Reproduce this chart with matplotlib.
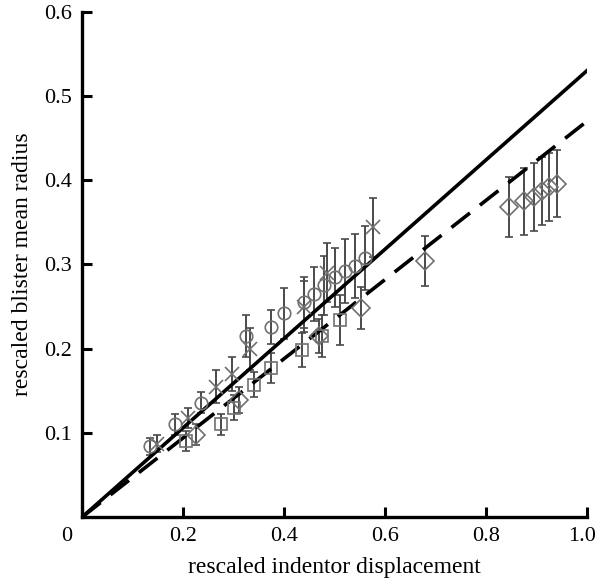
import matplotlib.pyplot as plt
from matplotlib.transforms import ScaledTranslation

plt.rcParams['font.family'] = ['Liberation Serif', 'DejaVu Serif']

# circles
circ_x = [0.135, 0.185, 0.236, 0.325, 0.375, 0.40, 0.44, 0.46, 0.48, 0.50, 0.52, 0.54, 0.56]
circ_y = [0.084, 0.110, 0.136, 0.215, 0.226, 0.242, 0.255, 0.265, 0.275, 0.285, 0.292, 0.298, 0.308]
circ_e = [0.010, 0.012, 0.012, 0.025, 0.020, 0.030, 0.030, 0.032, 0.035, 0.035, 0.038, 0.038, 0.038]

# crosses
crs_x = [0.148, 0.21, 0.265, 0.296, 0.333, 0.44, 0.485, 0.577]
crs_y = [0.087, 0.118, 0.155, 0.170, 0.200, 0.250, 0.290, 0.344]
crs_e = [0.010, 0.012, 0.020, 0.020, 0.025, 0.030, 0.035, 0.035]

# squares
sq_x = [0.205, 0.275, 0.30, 0.34, 0.375, 0.435, 0.475, 0.51]
sq_y = [0.090, 0.110, 0.130, 0.157, 0.177, 0.198, 0.215, 0.234]
sq_e = [0.012, 0.012, 0.015, 0.015, 0.018, 0.020, 0.025, 0.030]

# diamonds
dm_x = [0.225, 0.31, 0.47, 0.553, 0.68, 0.845, 0.875, 0.895, 0.91, 0.925, 0.94]
dm_y = [0.098, 0.139, 0.215, 0.248, 0.304, 0.368, 0.375, 0.380, 0.387, 0.392, 0.396]
dm_e = [0.012, 0.015, 0.020, 0.025, 0.030, 0.036, 0.040, 0.040, 0.040, 0.040, 0.040]

# model lines
line_x = [0.0, 1.0]
solid_y = [0.0, 0.53]
dashed_y = [0.0, 0.47]

fig = plt.figure(figsize=(5.99, 5.83), dpi=100)
ax = fig.add_axes([0.137, 0.113, 0.843, 0.867])

ecol = '#4a4a4a'
mcol = '#707070'
kw = dict(ls='none', ecolor=ecol, elinewidth=1.4, capsize=3, capthick=1.4,
          mfc='none', mec=mcol, mew=1.2)
ax.errorbar(circ_x, circ_y, yerr=circ_e, marker='o', ms=9, **kw)
ax.errorbar(crs_x, crs_y, yerr=crs_e, marker='x', ms=10, **kw)
ax.errorbar(sq_x, sq_y, yerr=sq_e, marker='s', ms=9, **kw)
ax.errorbar(dm_x, dm_y, yerr=dm_e, marker='D', ms=9, **kw)

ax.plot(line_x, solid_y, color='black', lw=2.6)
ax.plot(line_x, dashed_y, color='black', lw=2.6, dashes=(6.5, 3.5))

ax.set_xlim(0, 1.0)
ax.set_ylim(0, 0.6)
ax.set_xticks([0, 0.2, 0.4, 0.6, 0.8, 1.0])
ax.set_xticklabels(['0', '0.2', '0.4', '0.6', '0.8', '1.0'])
ax.set_yticks([0.1, 0.2, 0.3, 0.4, 0.5, 0.6])
ax.set_yticklabels(['0.1', '0.2', '0.3', '0.4', '0.5', '0.6'])
ax.tick_params(direction='in', length=7, width=2.2, labelsize=16, pad=7)
for s in ['top', 'right']:
    ax.spines[s].set_visible(False)
for s in ['left', 'bottom']:
    ax.spines[s].set_linewidth(2.4)

xlabs = ax.get_xticklabels()
xlabs[0].set_transform(xlabs[0].get_transform() + ScaledTranslation(-0.15, 0, fig.dpi_scale_trans))
xlabs[-1].set_transform(xlabs[-1].get_transform() + ScaledTranslation(-0.05, 0, fig.dpi_scale_trans))

ax.set_xlabel('rescaled indentor displacement', fontsize=17, labelpad=8)
ax.set_ylabel('rescaled blister mean radius', fontsize=17, labelpad=8)

fig.savefig('out.png', dpi=100)
